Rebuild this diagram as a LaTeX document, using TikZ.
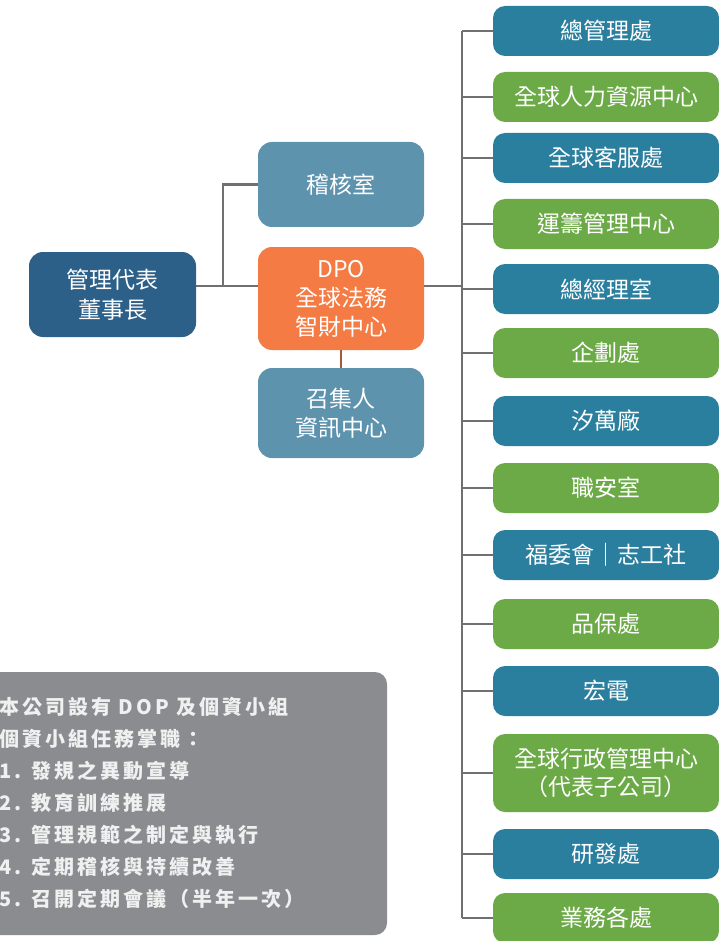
\documentclass[tikz,border=0pt]{standalone}
\usepackage{fontspec}
\usepackage{xcolor}
\usetikzlibrary{positioning, calc}
\newfontfamily\cjk{Noto Sans CJK TC}
\newfontfamily\cjknote[LetterSpace=15]{Noto Sans CJK TC}

\definecolor{chairblue}{HTML}{2C6089}
\definecolor{steel}{HTML}{5E93AE}
\definecolor{dpoorange}{HTML}{F47B43}
\definecolor{unitblue}{HTML}{2B7F9E}
\definecolor{unitgreen}{HTML}{6BAA46}
\definecolor{panelgray}{HTML}{8B8C90}
\definecolor{linegray}{HTML}{707070}
\definecolor{linebrown}{HTML}{A9573A}

\tikzset{
  box/.style={rounded corners=14pt, text=white, align=center, inner sep=0pt,
    minimum width=166pt, font=\cjk\fontsize{23}{29}\selectfont},
  unit/.style={rounded corners=12pt, text=white, align=center, inner sep=0pt,
    minimum width=226pt, font=\cjk\fontsize{23}{28}\selectfont},
  link/.style={draw=linegray, line width=2.2pt},
}

\begin{document}
\begin{tikzpicture}[x=1pt, y=-1pt]
  \useasboundingbox (0,0) rectangle (718,941);

  % left side
  \node[box, fill=chairblue, minimum width=167pt, minimum height=85pt, font=\cjk\fontsize{23}{30}\selectfont] (chair) at (112.5,294.5) {管理代表\\董事長};
  \node[box, fill=steel, minimum height=85pt] (audit) at (341,184.5) {稽核室};
  \node[box, fill=dpoorange, minimum height=103pt] (dpo) at (341,298.5) {DPO\\全球法務\\智財中心};
  \node[box, fill=steel, minimum height=90pt] (conv) at (341,413) {召集人\\資訊中心};

  \coordinate (hub) at (223,286);
  \coordinate (trunk) at (462,0);

  \draw[link] (chair.east |- hub) -- (dpo.west |- hub);
  \draw[link] (hub) |- (audit.west);
  \draw[link] (dpo.east |- hub) -- (hub -| trunk);
  \draw[draw=linebrown, line width=2.2pt] (dpo.south) -- (conv.north);

  % units
  \foreach \n/\txt/\col/\y/\h in {
      1/總管理處/unitblue/31/50,
      2/全球人力資源中心/unitgreen/97/50,
      3/全球客服處/unitblue/158/50,
      4/運籌管理中心/unitgreen/224/50,
      5/總經理室/unitblue/289/50,
      6/企劃處/unitgreen/353/50,
      7/汐萬廠/unitblue/421/50,
      8/職安室/unitgreen/488/50,
      9/福委會｜志工社/unitblue/555/50,
      10/品保處/unitgreen/624/50,
      11/宏電/unitblue/691/50,
      12/{全球行政管理中心\\（代表子公司）}/unitgreen/773/78,
      13/研發處/unitblue/854/50,
      14/業務各處/unitgreen/918/50} {
      \node[unit, fill=\col, minimum height=\h pt] (u\n) at (606,\y) {\txt};
      \draw[link] (u\n.west) -- (u\n.west -| trunk);
    }
  \draw[link, line cap=square] (u1.west -| trunk) -- (u14.west -| trunk);

  % note panel
  \fill[panelgray, rounded corners=12pt] (-20,672) rectangle (387,935);
  \node[anchor=north west, inner sep=0pt, align=left, text=white!94!black,
    font=\cjknote\bfseries\fontsize{20}{32}\selectfont] (note) at (-1,697)
    {本公司設有 DOP 及個資小組\\個資小組任務掌職：\\1. 發規之異動宣導\\2. 教育訓練推展\\3. 管理規範之制定與執行\\4. 定期稽核與持續改善\\5. 召開定期會議（半年一次）};
\end{tikzpicture}
\end{document}
